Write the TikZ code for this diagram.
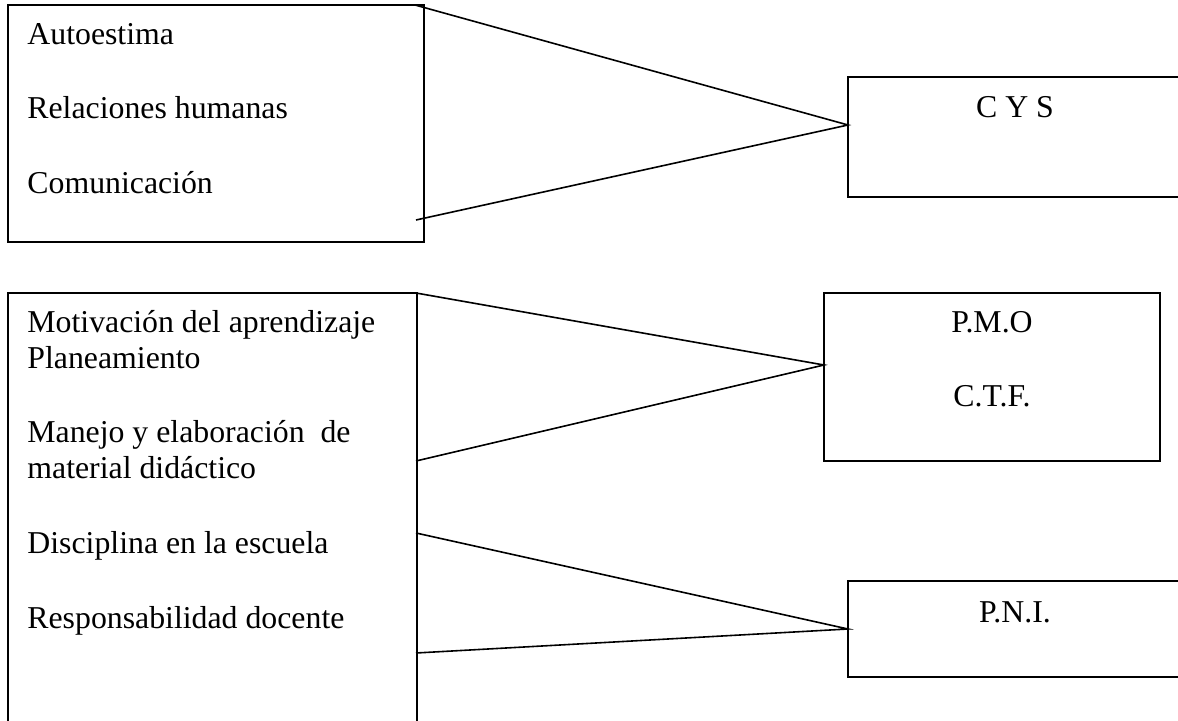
\documentclass[tikz,border=0pt]{standalone}
\usepackage{fontspec}
\setmainfont{Liberation Serif}
\usetikzlibrary{fit}
\begin{document}
\begin{tikzpicture}[x=0.5pt,y=-0.5pt,
  box/.style={draw,line width=0.85pt,inner sep=0pt,outer sep=0pt},
  lbl/.style={font=\fontsize{15.9}{18}\selectfont,inner sep=0pt,anchor=base west},
  ctr/.style={font=\fontsize{15.9}{18}\selectfont,inner sep=0pt,anchor=base},
  link/.style={line width=0.8pt}]
\useasboundingbox (0,0) rectangle (1178,721);
\clip (0,0) rectangle (1178,721);
% boxes
\node[box,fit={(8,5) (424,242)}] (b1) {};
\node[box,fit={(8,293) (417,760)}] (b2) {};
\node[box,fit={(848,77) (1220,197)}] (cys) {};
\node[box,fit={(824,293) (1160,461)}] (pmo) {};
\node[box,fit={(848,581) (1220,677)}] (pni) {};
% left texts
\node[lbl] (t1) at (27,45) {Autoestima};
\node[lbl] (t2) at (27,119) {Relaciones humanas};
\node[lbl] (t3) at (27,194) {Comunicación};
\node[lbl] (t4) at (27,333) {Motivación del aprendizaje};
\node[lbl] (t5) at (27,369) {Planeamiento};
\node[lbl] (t6) at (27,443) {Manejo y elaboración\ \ de};
\node[lbl] (t7) at (27,479) {material didáctico};
\node[lbl] (t8) at (27,553) {Disciplina en la escuela};
\node[lbl] (t9) at (27,628) {Responsabilidad docente};
% right texts
\node[ctr] (c1) at (1015,118) {C Y S};
\node[ctr] (c2) at (992,333) {P.M.O};
\node[ctr] (c3) at (992,407) {C.T.F.};
\node[ctr] (c4) at (1015,622) {P.N.I.};
% connector ends
\coordinate (a1) at (415,5);
\coordinate (a2) at (416,220);
\coordinate (acys) at (848,125);
\coordinate (a3) at (416,293);
\coordinate (a4) at (416,461);
\coordinate (apmo) at (824,365);
\coordinate (a5) at (416,533);
\coordinate (a6) at (416,653);
\coordinate (apni) at (848,629);
\draw[link] (a1) -- (acys) -- (a2);
\draw[link] (a3) -- (apmo) -- (a4);
\draw[link] (a5) -- (apni) -- (a6);
\end{tikzpicture}
\end{document}
